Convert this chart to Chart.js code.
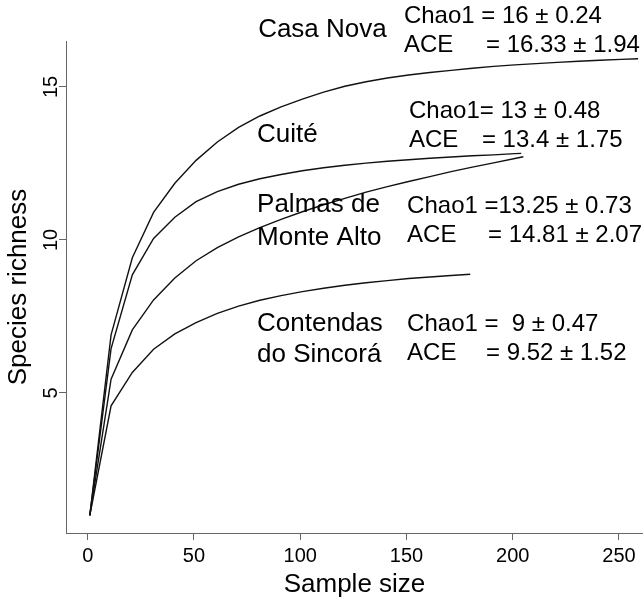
<!DOCTYPE html>
<html>
<head>
<meta charset="utf-8">
<script src="https://cdn.jsdelivr.net/npm/chart.js@4/dist/chart.umd.min.js"></script>
<style>
  body { margin: 0; background: #fff; }
</style>
</head>
<body>
<canvas id="graf" width="643" height="598"></canvas>
<script>
// rarefaction curves, sample size vs species richness
const casaNovaN = [1, 11, 21, 31, 41, 51, 61, 71, 81, 91, 101, 111, 121, 131, 141, 151, 161, 171, 181, 191, 201, 211, 221, 231, 241, 251, 259];
const casaNova = [1, 6.9, 9.42, 10.9, 11.85, 12.6, 13.2, 13.68, 14.05, 14.35, 14.6, 14.83, 15.02, 15.17, 15.29, 15.39, 15.47, 15.54, 15.61, 15.67, 15.72, 15.76, 15.8, 15.84, 15.87, 15.9, 15.92];

const cuiteN = [1, 11, 21, 31, 41, 51, 61, 71, 81, 91, 101, 111, 121, 131, 141, 151, 161, 171, 181, 191, 201, 204];
const cuite = [1, 6.45, 8.86, 10.05, 10.74, 11.25, 11.58, 11.82, 12.0, 12.14, 12.26, 12.36, 12.44, 12.51, 12.57, 12.62, 12.67, 12.71, 12.75, 12.78, 12.82, 12.83];

const palmasN = [1, 11, 21, 31, 41, 51, 61, 71, 81, 91, 101, 111, 121, 131, 141, 151, 161, 171, 181, 191, 201, 205];
const palmas = [1, 5.45, 7.06, 8.04, 8.76, 9.32, 9.75, 10.1, 10.4, 10.67, 10.92, 11.15, 11.36, 11.56, 11.74, 11.91, 12.07, 12.23, 12.38, 12.52, 12.66, 12.72];

const contendasN = [1, 11, 21, 31, 41, 51, 61, 71, 81, 91, 101, 111, 121, 131, 141, 151, 161, 171, 180];
const contendas = [1, 4.58, 5.67, 6.43, 6.93, 7.3, 7.6, 7.84, 8.03, 8.18, 8.31, 8.42, 8.52, 8.6, 8.67, 8.74, 8.79, 8.84, 8.88];

const xTicks = [0, 50, 100, 150, 200, 250];
const yTicks = [5, 10, 15];

// text next to the curves, placed in data units [x, y, text, size]
const labels = [
  [80.2, 16.64, "Casa Nova", 26],
  [148.8, 17.09, "Chao1 = 16 ± 0.24", 24],
  [148.8, 16.14, "ACE", 24],
  [187.4, 16.14, "= 16.33 ± 1.94", 24],
  [79.7, 13.2, "Cuité", 26],
  [151.2, 13.98, "Chao1= 13 ± 0.48", 24],
  [151.2, 13.03, "ACE", 24],
  [185.5, 13.03, "= 13.4 ± 1.75", 24],
  [79.7, 10.9, "Palmas de", 26],
  [79.7, 9.85, "Monte Alto", 26],
  [150.3, 10.87, "Chao1 =13.25 ± 0.73", 24],
  [150.3, 9.92, "ACE", 24],
  [188.4, 9.92, "= 14.81 ± 2.07", 24],
  [79.7, 7.03, "Contendas", 26],
  [79.7, 6.01, "do Sincorá", 26],
  [150.3, 7.03, "Chao1 =  9 ± 0.47", 24],
  [150.3, 6.08, "ACE", 24],
  [187.4, 6.08, "= 9.52 ± 1.52", 24]
];

const FONT = "'Liberation Sans', Arial, sans-serif";

function serie(xs, ys) {
  return xs.map((x, i) => ({ x: x, y: ys[i] }));
}

function linje(data) {
  return {
    data: data,
    borderColor: '#111',
    borderWidth: 1.4,
    pointRadius: 0,
    tension: 0,
    fill: false
  };
}

const textPlugin = {
  id: 'texter',
  afterDraw(chart) {
    const ctx = chart.ctx;
    const xs = chart.scales.x;
    const ys = chart.scales.y;
    ctx.save();
    ctx.fillStyle = '#000';
    // y tick labels, rotated like in R
    ctx.font = "20px " + FONT;
    ctx.textAlign = 'center';
    ctx.textBaseline = 'alphabetic';
    ys.ticks.forEach(t => {
      ctx.save();
      ctx.translate(57, ys.getPixelForValue(t.value));
      ctx.rotate(-Math.PI / 2);
      ctx.fillText(String(t.value), 0, 0);
      ctx.restore();
    });
    ctx.textAlign = 'left';
    labels.forEach(l => {
      ctx.font = l[3] + "px " + FONT;
      ctx.fillText(l[2], xs.getPixelForValue(l[0]), ys.getPixelForValue(l[1]));
    });
    ctx.restore();
  }
};

const ctx = document.getElementById("graf").getContext("2d");
new Chart(ctx, {
  type: 'line',
  data: {
    datasets: [
      linje(serie(casaNovaN, casaNova)),
      linje(serie(cuiteN, cuite)),
      linje(serie(palmasN, palmas)),
      linje(serie(contendasN, contendas))
    ]
  },
  options: {
    responsive: false,
    animation: false,
    devicePixelRatio: 1,
    layout: { padding: { top: 41, right: 0, left: 0, bottom: 0 } },
    plugins: {
      legend: { display: false },
      tooltip: { enabled: false }
    },
    scales: {
      x: {
        type: 'linear',
        min: -10.21,
        max: 261.3,
        afterBuildTicks: s => { s.ticks = xTicks.map(v => ({ value: v })); },
        afterFit: s => { s.height = 65; },
        border: { display: true, color: '#666', width: 1 },
        grid: { drawOnChartArea: false, drawTicks: true, tickLength: 7, color: '#666' },
        ticks: { color: '#000', font: { family: FONT, size: 20 }, padding: 4, maxRotation: 0 },
        title: {
          display: true,
          text: 'Sample size',
          color: '#000',
          font: { family: FONT, size: 26, lineHeight: 1 },
          padding: { top: 0, bottom: 0 }
        }
      },
      y: {
        type: 'linear',
        min: 0.425,
        max: 16.5,
        afterBuildTicks: s => { s.ticks = yTicks.map(v => ({ value: v })); },
        afterFit: s => { s.width = 66; },
        border: { display: true, color: '#666', width: 1 },
        grid: { drawOnChartArea: false, drawTicks: true, tickLength: 7, color: '#666' },
        ticks: { display: false },
        title: {
          display: true,
          text: 'Species richness',
          color: '#000',
          font: { family: FONT, size: 26, lineHeight: 1 },
          padding: { top: 6, bottom: 0 }
        }
      }
    }
  },
  plugins: [textPlugin]
});
</script>
</body>
</html>
